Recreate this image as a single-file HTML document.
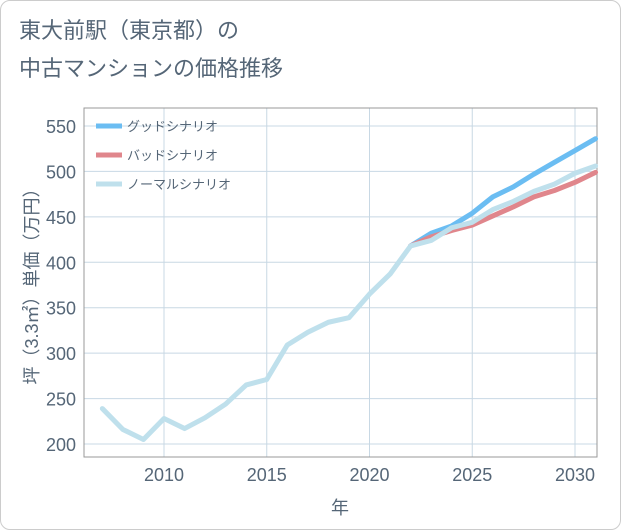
<!DOCTYPE html>
<html><head><meta charset="utf-8"><style>
body{margin:0;background:#fff;}
#wrap{position:relative;width:619px;height:528px;border:1px solid #ccc;border-radius:10px;background:#fff;font-family:"Liberation Sans","Noto Sans CJK JP",sans-serif;overflow:hidden}
.t{position:absolute;left:18px;color:#556677;font-size:22px;line-height:36px}
</style></head><body>
<div id="wrap">
<div class="t" style="top:12px">東大前駅（東京都）の</div>
<div class="t" style="top:50px">中古マンションの価格推移</div>
<svg id="svg" width="621" height="530" style="position:absolute;left:-1px;top:-1px"></svg>
</div>
<script>
const years=[2007,2008,2009,2010,2011,2012,2013,2014,2015,2016,2017,2018,2019,2020,2021,2022,2023,2024,2025,2026,2027,2028,2029,2030,2031];
const normal=[239,216,205,228,217,229,244,265,271,309,323,334,339,365,387,418,424,438,444,458,467,478,486,498,506];
const fYears=[2022,2023,2024,2025,2026,2027,2028,2029,2030,2031];
const good=[418,432,440,454,472,483,497,510,523,536];
const bad=[418,428,435,441,451,461,472,479,488,499];
const yTicks=[200,250,300,350,400,450,500,550];
const xTicks=[2010,2015,2020,2025,2030];
const L=84,R=597,T=108,B=457;
const X=v=>164+(v-2010)*20.55;
const Y=v=>444-(v-200)*0.9086;
const svg=document.getElementById('svg');
const NS='http://www.w3.org/2000/svg';
function mk(t,a){const e=document.createElementNS(NS,t);for(const k in a)e.setAttribute(k,a[k]);svg.appendChild(e);return e;}
for(const v of yTicks){
 const l=mk('line',{x1:L,x2:R,y1:Y(v),y2:Y(v),stroke:'#c8d8e4','stroke-width':1});
 
 const t=mk('text',{x:76,y:Y(v)+7,'text-anchor':'end','font-size':18,fill:'#556677'});t.textContent=v;
 
}
for(const v of xTicks){
 const l=mk('line',{x1:X(v),x2:X(v),y1:T,y2:B,stroke:'#c8d8e4','stroke-width':1});
 
 const t=mk('text',{x:X(v),y:481,'text-anchor':'middle','font-size':18,fill:'#556677'});t.textContent=v;
 
}
const fr=mk('rect',{x:L,y:T,width:R-L,height:B-T,fill:'none',stroke:'#999','stroke-width':1});

function line(xs,ys,c,name){
 const p=mk('polyline',{points:xs.map((x,i)=>X(x)+','+Y(ys[i])).join(' '),fill:'none',stroke:c,'stroke-width':5,'stroke-linejoin':'round','stroke-linecap':'round'});
 
}
line(fYears,good,'#6bbdf2','series-good');
line(fYears,bad,'#e0868c','series-bad');
line(years,normal,'#bfe0ec','series-normal');
const leg=[['グッドシナリオ','#6bbdf2'],['バッドシナリオ','#e0868c'],['ノーマルシナリオ','#bfe0ec']];
leg.forEach((d,i)=>{
 const y=126+i*29;
 const l=mk('line',{x1:96,x2:122,y1:y,y2:y,stroke:d[1],'stroke-width':5});
 
 const t=mk('text',{x:127,y:y+5,'font-size':13,fill:'#556677'});t.textContent=d[0];
 
});
const xt=mk('text',{x:340,y:514,'text-anchor':'middle','font-size':18,fill:'#556677'});xt.textContent='年';

const yt=mk('text',{x:0,y:0,'text-anchor':'middle','font-size':18,fill:'#556677',transform:'translate(38,282) rotate(-90)'});yt.textContent='坪（3.3㎡）単価（万円）';

</script>
</body></html>
